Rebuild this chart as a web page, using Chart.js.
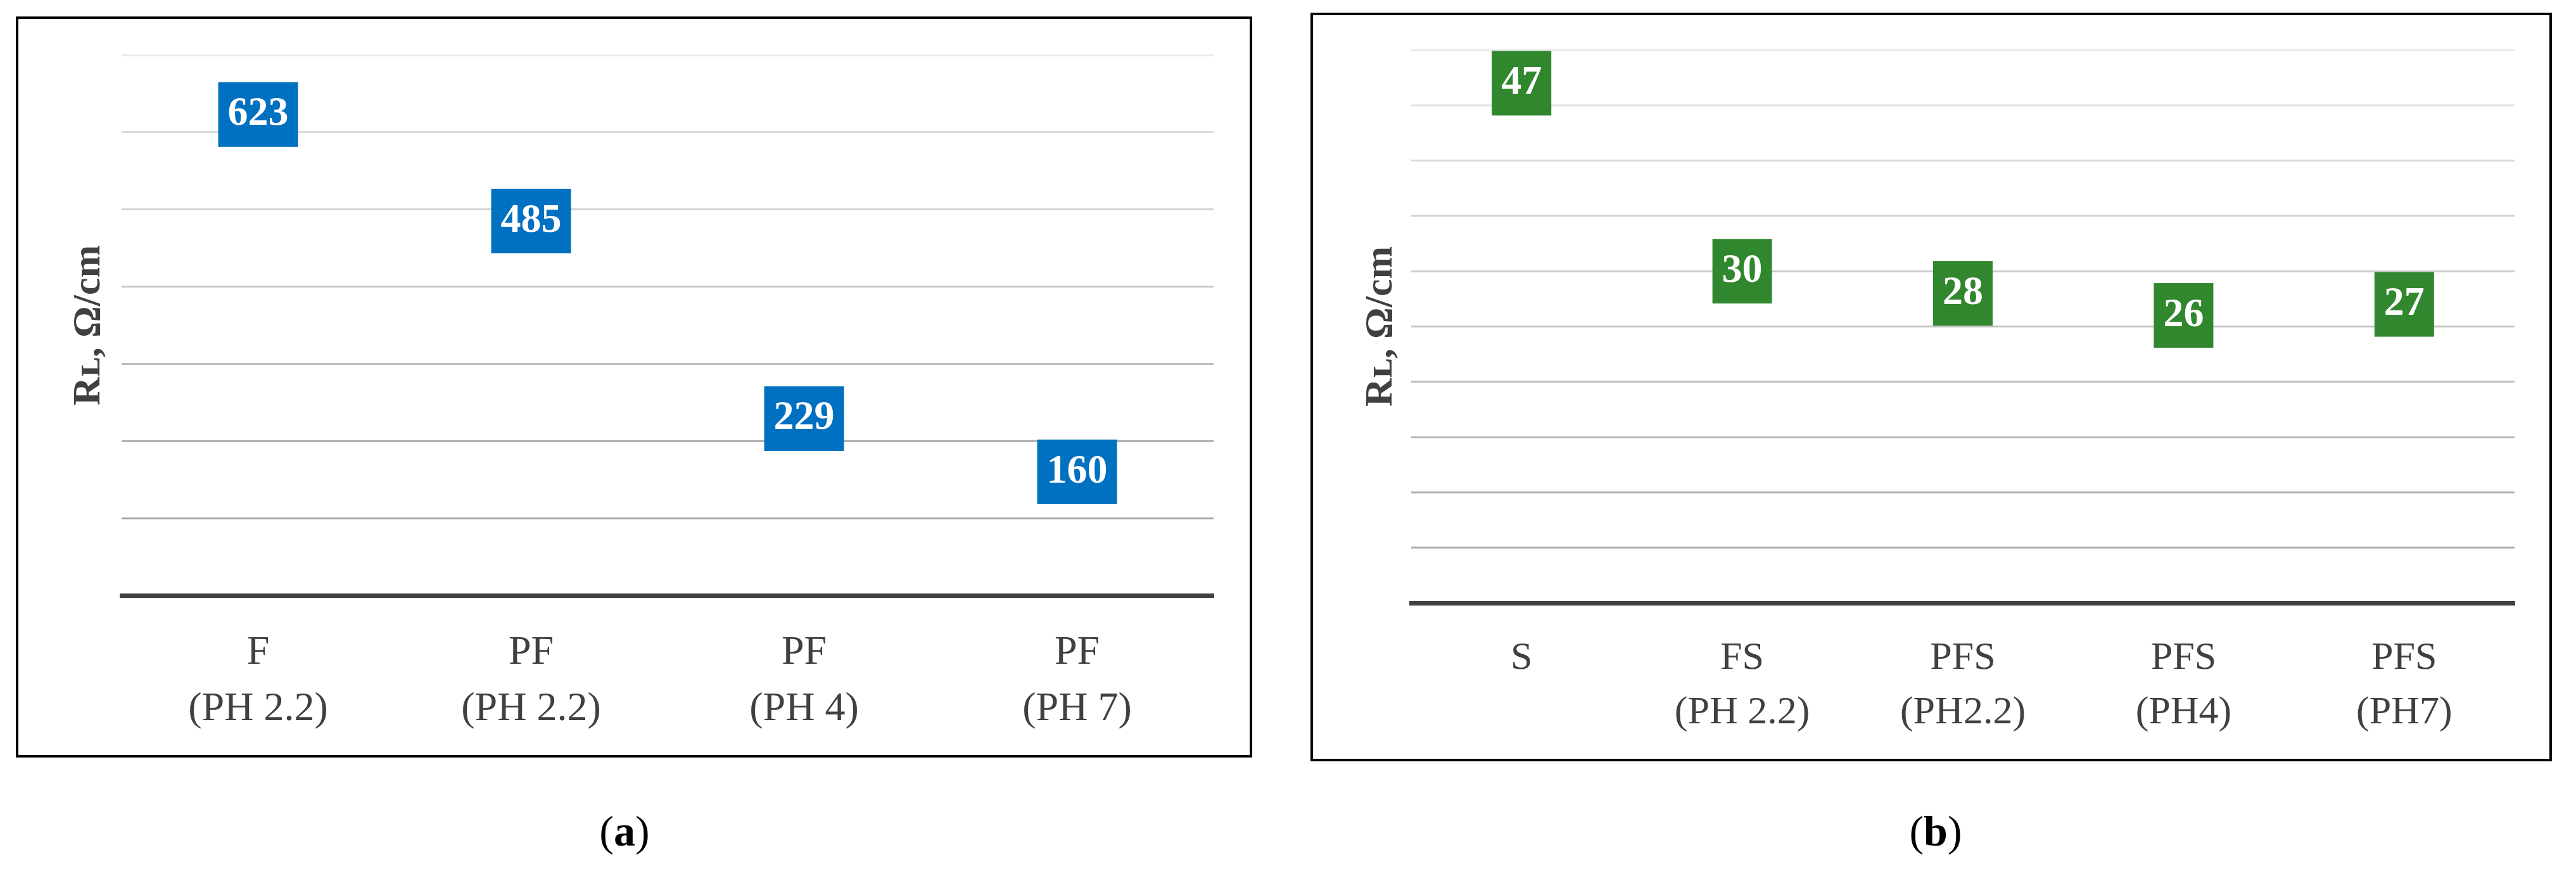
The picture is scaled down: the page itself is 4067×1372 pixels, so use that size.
<!DOCTYPE html>
<html><head><meta charset="utf-8">
<script src="https://cdn.jsdelivr.net/npm/chart.js@4.4.1/dist/chart.umd.min.js"></script>
<style>
html,body{margin:0;padding:0;background:#fff;}
body{width:4067px;height:1372px;position:relative;overflow:hidden;font-family:'Liberation Serif','DejaVu Serif',serif;}
.frame{position:absolute;box-sizing:border-box;border:4px solid #000;}
.wrap{position:absolute;top:0;}
.cap{position:absolute;font-size:68px;color:#000;transform:translate(-50%,-50%);white-space:nowrap;line-height:1;}
</style></head><body>
<div class="frame" style="left:25px;top:26px;width:1952px;height:1170px"></div>
<div class="frame" style="left:2069px;top:20px;width:1960px;height:1182px"></div>
<div class="wrap" style="left:0;width:2020px;height:1250px"><canvas id="ca"></canvas></div>
<div class="wrap" style="left:2040px;width:2027px;height:1250px"><canvas id="cb"></canvas></div>
<div class="cap" style="left:986px;top:1312px">(<b>a</b>)</div>
<div class="cap" style="left:3056px;top:1312px">(<b>b</b>)</div>
<script>
// ---- data ----
const catsA = [['F','(PH 2.2)'],['PF','(PH 2.2)'],['PF','(PH 4)'],['PF','(PH 7)']];
const valsA = [623, 485, 229, 160];
const yMaxA = 700, yStepA = 100;

const catsB = ['S',['FS','(PH 2.2)'],['PFS','(PH2.2)'],['PFS','(PH4)'],['PFS','(PH7)']];
const valsB = [47, 30, 28, 26, 27];
const yMaxB = 50, yStepB = 5;

const yTitle = 'R\u029F, \u03A9/cm';

// ---- helpers ----
const FAM = "'Liberation Serif', 'DejaVu Serif', serif";
Chart.defaults.font.family = FAM;

function gridColor(v, step, max){
  if (v <= 0) return 'rgba(0,0,0,0)';
  const t = (v - step) / (max - step);
  const g = Math.round(166 + t * (232 - 166));
  return 'rgb(' + g + ',' + g + ',' + g + ')';
}

const boxLabels = {
  id: 'boxLabels',
  afterDatasetsDraw(chart, args, opts){
    const ctx = chart.ctx;
    const meta = chart.getDatasetMeta(0);
    const ds = chart.data.datasets[0];
    ctx.save();
    ctx.font = 'bold ' + opts.size + 'px ' + FAM;
    ctx.textAlign = 'center';
    ctx.textBaseline = 'middle';
    meta.data.forEach((pt, i) => {
      const txt = String(ds.data[i]);
      const w = ctx.measureText(txt).width + 2 * opts.padX;
      const h = opts.boxH;
      ctx.fillStyle = opts.color;
      ctx.fillRect(pt.x - w / 2, pt.y - h / 2, w, h);
      ctx.fillStyle = '#ffffff';
      ctx.fillText(txt, pt.x, pt.y);
    });
    ctx.restore();
  }
};

function makeChart(id, cats, vals, yMax, yStep, color, geo){
  return new Chart(document.getElementById(id), {
    type: 'line',
    data: { labels: cats, datasets: [{ data: vals, showLine: false, pointRadius: 0, pointHoverRadius: 0, borderColor: color, backgroundColor: color }] },
    options: {
      responsive: true, maintainAspectRatio: false, animation: false, events: [],
      layout: { padding: { top: geo.top, right: geo.right, left: 0, bottom: 0 } },
      plugins: {
        legend: { display: false }, tooltip: { enabled: false },
        boxLabels: { color: color, size: 64, padX: 15, boxH: 102 }
      },
      scales: {
        x: {
          type: 'category', offset: true,
          grid: { display: false, drawTicks: false },
          border: { display: true, color: '#404040', width: 7 },
          ticks: { color: '#404040', font: { size: geo.labSize, lineHeight: geo.labLH }, padding: geo.tickPad, maxRotation: 0, autoSkip: false },
          afterFit(s){ s.height = geo.xH; }
        },
        y: {
          min: 0, max: yMax,
          ticks: { display: false, stepSize: yStep },
          border: { display: false },
          grid: { drawTicks: false, lineWidth: 3, color: (c) => gridColor(c.tick.value, yStep, yMax) },
          title: { display: true, text: yTitle, color: '#404040', font: { size: 62, weight: 'bold', lineHeight: 1.2 }, padding: { top: geo.titlePad, bottom: 0 } },
          afterFit(s){ s.width = geo.yW; }
        }
      }
    },
    plugins: [boxLabels]
  });
}

makeChart('ca', catsA, valsA, yMaxA, yStepA, '#0070C0',
  { top: 87, right: 104, xH: 310, yW: 192, labSize: 64, labLH: 89/64, tickPad: 47, titlePad: 104 });
makeChart('cb', catsB, valsB, yMaxB, yStepB, '#31872E',
  { top: 79, right: 97, xH: 298, yW: 188, labSize: 62, labLH: 86/62, tickPad: 45, titlePad: 104 });
</script>
</body></html>
